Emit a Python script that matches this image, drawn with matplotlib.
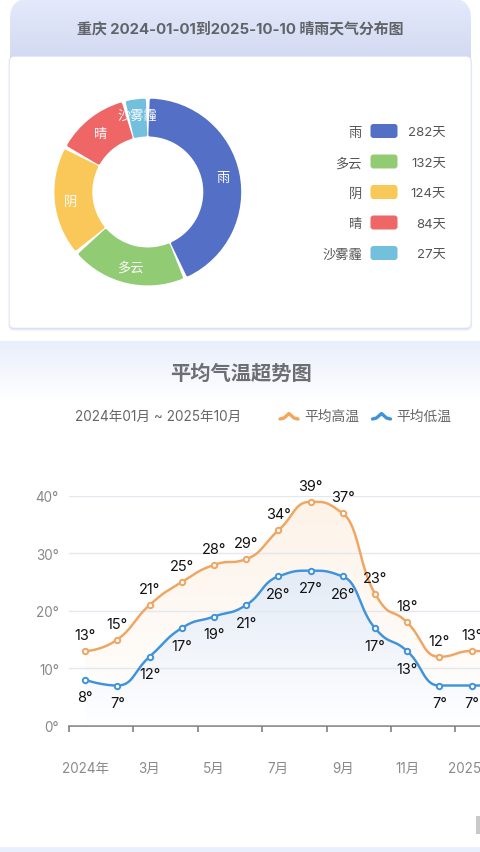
import numpy as np
import matplotlib
matplotlib.use("Agg")
import matplotlib.pyplot as plt
from matplotlib.colors import to_rgb
from matplotlib.patches import FancyBboxPatch, Rectangle
from matplotlib.path import Path

plt.rcParams['font.family'] = ['Inter', 'Noto Sans CJK SC', 'DejaVu Sans']

WIDTH, HEIGHT = 480, 853

# donut data
weather_names = ['雨', '多云', '阴', '晴', '沙雾霾']
weather_days = [282, 132, 124, 84, 27]
weather_colors = ['#5470c6', '#91cc75', '#fac858', '#ee6666', '#73c0de']

# temperature data (one per month, the last one runs off the picture)
month_labels = ['2024年', '', '3月', '', '5月', '', '7月', '', '9月', '', '11月', '', '2025年', '']
temp_high = [13, 15, 21, 25, 28, 29, 34, 39, 37, 23, 18, 12, 13, 13]
temp_low = [8, 7, 12, 17, 19, 21, 26, 27, 26, 17, 13, 7, 7, 7]
y_ticks = [0, 10, 20, 30, 40]


def px(size):
    # css pixels to points
    return size * 0.72


def smooth_curve(xs, ys, smooth=0.5, steps=30):
    # echarts style smoothing, control points are clamped so no overshoot at extremes
    pts = np.column_stack([xs, ys]).astype(float)
    n = len(pts)
    cp_in = pts.copy()
    cp_out = pts.copy()
    for i in range(1, n - 1):
        a, p, b = pts[i - 1], pts[i], pts[i + 1]
        v = (b - a) * smooth * 0.5
        out = np.clip(p + v, np.minimum(p, b), np.maximum(p, b))
        before = np.clip(p - (out - p), np.minimum(a, p), np.maximum(a, p))
        out = p + (p - before)
        cp_in[i] = before
        cp_out[i] = out
    curve = []
    for i in range(n - 1):
        p1, c1, c2, p2 = pts[i], cp_out[i], cp_in[i + 1], pts[i + 1]
        for t in np.linspace(0, 1, steps, endpoint=False):
            curve.append((1 - t) ** 3 * p1 + 3 * (1 - t) ** 2 * t * c1 + 3 * (1 - t) * t ** 2 * c2 + t ** 3 * p2)
    curve.append(pts[-1])
    curve = np.array(curve)
    return curve[:, 0], curve[:, 1]


def vertical_gradient(ax, extent, top_rgba, bottom_rgba, clip, zorder=1):
    grad = np.linspace(0, 1, 256)[:, None, None]
    img = np.array(top_rgba)[None, None, :] * (1 - grad) + np.array(bottom_rgba)[None, None, :] * grad
    im = ax.imshow(img, extent=extent, origin='upper', aspect='auto', zorder=zorder, interpolation='nearest')
    if clip is not None:
        im.set_clip_path(clip)
    return im


fig = plt.figure(figsize=(WIDTH / 100, HEIGHT / 100), dpi=100, facecolor='white')

# background layer in pixel coordinates
bg = fig.add_axes([0, 0, 1, 1])
bg.set_xlim(0, WIDTH)
bg.set_ylim(HEIGHT, 0)
bg.axis('off')

# top card header
head = FancyBboxPatch((10, -0.5), 461, 100, boxstyle='round,pad=0,rounding_size=20', fc='none', ec='none')
bg.add_patch(head)
vertical_gradient(bg, (10, 471, 60, -1), to_rgb('#e5eafc') + (1,), to_rgb('#d2d9f1') + (1,), head)
bg.set_xlim(0, WIDTH)
bg.set_ylim(HEIGHT, 0)
bg.text(240, 29, '重庆 2024-01-01到2025-10-10 晴雨天气分布图', ha='center', va='center',
        fontsize=px(14.95), color='#606468', fontweight='bold')

# white card with a soft shadow
for grow, alpha in [(3, 0.18), (2, 0.3), (1, 0.5)]:
    bg.add_patch(FancyBboxPatch((9.5 - grow * 0.4, 57), 461.5 + grow * 0.8, 272 + grow,
                                boxstyle='round,pad=0,rounding_size=6', fc='#c4cdef', ec='none', alpha=alpha, zorder=2))
bg.add_patch(FancyBboxPatch((9.5, 57.5), 461.5, 271.5, boxstyle='round,pad=0,rounding_size=5',
                            fc='white', ec='#e6eaf8', lw=0.6, zorder=3))

# legend of the donut
legend_y = [132, 162.5, 193, 223.5, 254]
for name, days, col, y in zip(weather_names, weather_days, weather_colors, legend_y):
    bg.text(362, y + 1.5, name, ha='right', va='center', fontsize=px(13.2), color='#555555', zorder=4)
    bg.add_patch(FancyBboxPatch((370.5, y - 7), 27, 14, boxstyle='round,pad=0,rounding_size=3', fc=col, ec='none', zorder=4))
    bg.text(446, y + 1, f'{days}天', ha='right', va='center', fontsize=px(13.2), color='#555555', zorder=4)

# second section header
sec = Rectangle((0, 342), WIDTH, 60, fc='none', ec='none')
bg.add_patch(sec)
vertical_gradient(bg, (0, WIDTH, 402, 342), (0.91, 0.935, 0.985, 1), (1, 1, 1, 1), sec)
bg.set_xlim(0, WIDTH)
bg.set_ylim(HEIGHT, 0)
bg.text(240.5, 374, '平均气温超势图', ha='center', va='center', fontsize=px(20.3), color='#6b6e72', fontweight='bold')
bg.text(75, 417, '2024年01月 ~ 2025年10月', ha='left', va='center', fontsize=px(13.6), color='#666666')

# line legend
icon_x = np.array([0, 4, 9, 14, 18])
icon_y = np.array([4, 3, -1.5, 3, 4])
for x0, col, name in [(280, '#f2a65e', '平均高温'), (372.5, '#3f93dc', '平均低温')]:
    bg.plot(x0 + icon_x, 416 + icon_y, color=col, lw=2.4, solid_capstyle='round')
    bg.text(x0 + 24, 417, name, ha='left', va='center', fontsize=px(13.8), color='#666666')

# bottom strip and the bit of scrollbar
bg.add_patch(Rectangle((0, 848), WIDTH, 5, fc='#e9effc', ec='none'))
bg.add_patch(Rectangle((476, 817), 4, 18, fc='#c9c9c9', ec='none'))

# donut
cx, cy, outer, inner = 147.8, 193, 93.4, 55.5
donut = fig.add_axes([(cx - 100) / WIDTH, 1 - (cy + 100) / HEIGHT, 200 / WIDTH, 200 / HEIGHT])
donut.set_zorder(2)
wedges, _ = donut.pie(weather_days, colors=weather_colors, startangle=90, counterclock=False, radius=outer,
                      wedgeprops=dict(width=outer - inner, linewidth=0))
donut.set_xlim(-100, 100)
donut.set_ylim(-100, 100)
donut.set_aspect('equal')
pad = 1.6
for w in wedges:
    # shrink each wedge and stroke it in its own colour to get the round corners
    mid_r = (outer + inner) / 2
    dtheta = np.degrees((pad + 1.2) / mid_r)
    w.set_theta1(w.theta1 + dtheta)
    w.set_theta2(w.theta2 - dtheta)
    w.set_radius(outer - pad)
    w.set_width(outer - inner - 2 * pad)
    w.set_edgecolor(w.get_facecolor())
    w.set_linewidth(px(2 * pad))
    w.set_joinstyle('round')

total = sum(weather_days)
label_r = [77, 76, 78, 76, 78]
start = 90.0
for name, days, r in zip(weather_names, weather_days, label_r):
    mid = np.radians(start - days / total * 360 / 2)
    start -= days / total * 360
    donut.text(r * np.cos(mid), r * np.sin(mid) - 1.5, name, ha='center', va='center', fontsize=px(13.2), color='#fdfdfd', zorder=5)

# temperature chart
x_left, x_right, y_bottom, y_top = 69, WIDTH, 726.7, 497
band = 32.2
ax = fig.add_axes([x_left / WIDTH, 1 - y_bottom / HEIGHT, (x_right - x_left) / WIDTH, (y_bottom - y_top) / HEIGHT])
ax.set_zorder(2)
ax.patch.set_alpha(0)

months = np.arange(len(temp_high)) + 0.5
hx, hy = smooth_curve(months, temp_high)
lx, ly = smooth_curve(months, temp_low)

# grid sits above the area fills, they are opaque enough to hide it otherwise
ax.yaxis.grid(True, color='#e4e7ee', lw=1, zorder=2)
ax.set_axisbelow(False)

area_styles = [(hx, hy, to_rgb('#f4a75c') + (0.14,), to_rgb('#f4a75c') + (0,)),
               (lx, ly, to_rgb('#e3ebf6') + (1,), to_rgb('#ffffff') + (1,))]
for cxs, cys, top_col, bottom_col in area_styles:
    clip_path = Path(np.column_stack([np.r_[cxs[0], cxs, cxs[-1]], np.r_[0, cys, 0]]))
    im = vertical_gradient(ax, (0, 14, 0, max(cys)), top_col, bottom_col, None)
    im.set_clip_path(clip_path, ax.transData)
ax.set_xlim(0, (x_right - x_left) / band)
ax.set_ylim(0, 40)

for vals, cxs, cys, col, off in [(temp_high, hx, hy, '#f0a560', 16), (temp_low, lx, ly, '#3f93dc', -17.5)]:
    ax.plot(cxs, cys, color=col, lw=1.75, zorder=3)
    ax.plot(months, vals, ls='none', marker='o', ms=px(5.4), mfc='white', mec=col, mew=1.4, zorder=4)
    for m, v in zip(months, vals):
        ax.annotate(f'{v}°', (m, v), xytext=(0, px(off)), textcoords='offset points', ha='center', va='center',
                    fontsize=px(14.5), color='#111111', zorder=5, annotation_clip=False)

for side in ['top', 'right', 'left']:
    ax.spines[side].set_visible(False)
ax.spines['bottom'].set_color('#808080')
ax.spines['bottom'].set_linewidth(1.2)
ax.set_yticks(y_ticks)
ax.set_yticklabels([f'{t}°' for t in y_ticks], fontsize=px(13.5), color='#888888')
ax.tick_params(axis='y', length=0, pad=px(10))
ax.set_xticks(np.arange(0, 14, 2))
ax.set_xticklabels([])
ax.tick_params(axis='x', length=px(6), width=1.2, color='#808080')
for m, lab in zip(months, month_labels):
    if lab:
        ax.annotate(lab, (m, 0), xytext=(0, -px(42)), textcoords='offset points', ha='center', va='center',
                    fontsize=px(13.5), color='#8a8a8a', annotation_clip=False)

fig.savefig('out.png', dpi=100)
